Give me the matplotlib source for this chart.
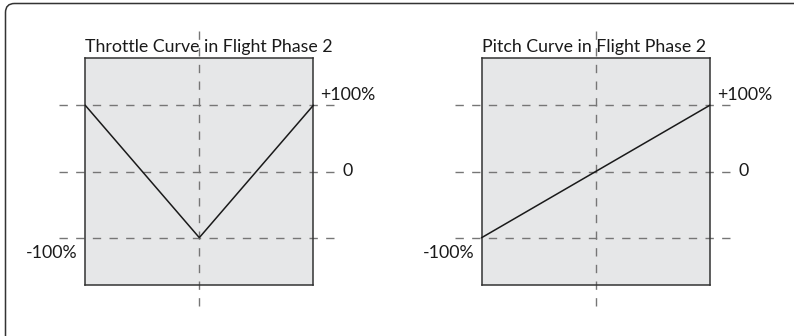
import matplotlib
matplotlib.use("Agg")
import matplotlib.pyplot as plt
from matplotlib.patches import FancyBboxPatch

plt.rcParams['font.family'] = ['Lato', 'DejaVu Sans']

# curve data (percent of stick travel -> percent of output)
throttle_x = [-100, 0, 100]
throttle_y = [100, -100, 100]
pitch_x = [-100, 100]
pitch_y = [-100, 100]

ref_levels = [100, 0, -100]
level_labels = ['+100%', '0', '-100%']
titles = ['Throttle Curve in Flight Phase 2', 'Pitch Curve in Flight Phase 2']

fig = plt.figure(figsize=(7.94, 3.36), dpi=100)

# outer rounded frame, open to the right and bottom
frame = FancyBboxPatch((0.055, -0.5), 9.0, 3.825,
                       boxstyle="round,pad=0,rounding_size=0.09",
                       transform=fig.dpi_scale_trans, fill=False,
                       edgecolor='#333333', linewidth=1.1)
fig.add_artist(frame)

W, H = 794, 336
panels = [
    (85.3, throttle_x, throttle_y),
    (481.7, pitch_x, pitch_y),
]

dash_col = '#767676'
fs = 12.8
for (left_px, xs, ys), title in zip(panels, titles):
    ax = fig.add_axes([left_px / W, (H - 285) / H, 228 / W, 227 / H])
    ax.set_xlim(-100, 100)
    ax.set_ylim(-171.6, 171.6)
    ax.set_facecolor('#e6e7e8')
    ax.set_xticks([])
    ax.set_yticks([])
    for s in ax.spines.values():
        s.set_color('#333333')
        s.set_linewidth(1.1)

    for lv in ref_levels:
        ax.plot([-123, 123], [lv, lv], color=dash_col, lw=1.0,
                dashes=(6, 6), clip_on=False, zorder=1)
    ax.plot([0, 0], [212, -213], color=dash_col, lw=1.0,
            dashes=(6, 6), clip_on=False, zorder=1)

    ax.plot(xs, ys, color='#1a1a1a', lw=1.1, clip_on=False, zorder=3)

    ax.annotate(title, xy=(0, 1), xycoords='axes fraction',
                xytext=(0, 4.5), textcoords='offset points',
                ha='left', va='baseline', fontsize=fs, color='#1a1a1a')

    ax.annotate(level_labels[0], xy=(100, 100), xycoords='data',
                xytext=(5, 3.5), textcoords='offset points',
                ha='left', va='baseline', fontsize=fs, color='#1a1a1a',
                annotation_clip=False)
    ax.annotate(level_labels[1], xy=(123, 0), xycoords='data',
                xytext=(2, 0), textcoords='offset points',
                ha='left', va='center', fontsize=fs, color='#1a1a1a',
                annotation_clip=False)
    ax.annotate(level_labels[2], xy=(-100, -100), xycoords='data',
                xytext=(-5.5, -5.5), textcoords='offset points',
                ha='right', va='top', fontsize=fs, color='#1a1a1a',
                annotation_clip=False)

fig.savefig('out.png', dpi=100, facecolor='white')
